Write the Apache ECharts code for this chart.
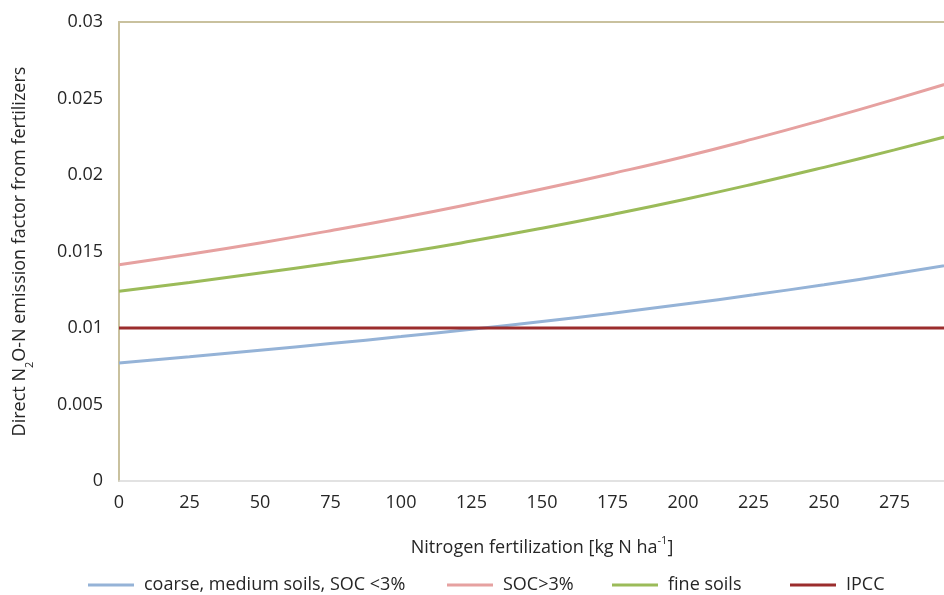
<!DOCTYPE html>
<html>
<head>
<meta charset="utf-8">
<script src="https://cdn.jsdelivr.net/npm/echarts@6/dist/echarts.min.js"></script>
<style>
html,body{margin:0;padding:0;background:#fff;}
#c{width:944px;height:595px;}
</style>
</head>
<body>
<div id="c"></div>
<script>
const nitrogen = [0, 25, 50, 75, 100, 125, 150, 175, 200, 225, 250, 275, 300];
const coarseMedium = [0.00772, 0.00812, 0.00854, 0.00898, 0.00944, 0.00992, 0.01043, 0.01097, 0.01155, 0.01217, 0.01283, 0.01354, 0.01430];
const socAbove3 = [0.01414, 0.01482, 0.01556, 0.01636, 0.01721, 0.01812, 0.01908, 0.02010, 0.02118, 0.02236, 0.02362, 0.02494, 0.02632];
const fineSoils = [0.01240, 0.01298, 0.01359, 0.01423, 0.01491, 0.01568, 0.01652, 0.01742, 0.01838, 0.01941, 0.02050, 0.02164, 0.02283];
const ipcc = [0.01, 0.01, 0.01, 0.01, 0.01, 0.01, 0.01, 0.01, 0.01, 0.01, 0.01, 0.01, 0.01];
const seriesNames = ['coarse, medium soils, SOC <3%', 'SOC>3%', 'fine soils', 'IPCC'];
const seriesValues = [coarseMedium, socAbove3, fineSoils, ipcc];
const seriesColors = ['#95B3D7', '#E6A1A0', '#9BBB59', '#9B2D2D'];
const legendLefts = [88, 447, 612, 790];

const FONT = 'Open Sans';
const FS = 18;
const TXT = '#262626';
const chart = echarts.init(document.getElementById('c'), null, {renderer: 'canvas'});

const series = seriesValues.map((vals, i) => ({
  name: seriesNames[i],
  type: 'line',
  xAxisIndex: 0,
  yAxisIndex: 0,
  data: nitrogen.map((n, j) => [n, vals[j]]),
  showSymbol: false,
  symbol: 'none',
  smooth: 0.5,
  lineStyle: {color: seriesColors[i], width: 3},
  itemStyle: {color: seriesColors[i]},
  clip: true
}));

const legends = seriesNames.map((nm, i) => ({
  data: [nm],
  left: legendLefts[i],
  top: 576,
  padding: 0,
  icon: 'rect',
  itemWidth: 46,
  itemHeight: 3,
  textStyle: {fontFamily: FONT, fontSize: FS, color: TXT, padding: [0, 0, 0, 5]},
  selectedMode: false
}));

chart.setOption({
  animation: false,
  backgroundColor: '#fff',
  grid: {left: 119, right: -21, top: 22, bottom: 114, containLabel: false, outerBoundsMode: 'none'},
  legend: legends,
  xAxis: [{
    type: 'value',
    min: 0, max: 300, interval: 25,
    position: 'bottom',
    axisLine: {show: true, lineStyle: {color: '#D9D9D9', width: 1.5}},
    axisTick: {show: false},
    splitLine: {show: false},
    axisLabel: {fontFamily: FONT, fontSize: FS, color: TXT, margin: 13},
    name: '{a|Nitrogen fertilization [kg N ha}{sup|-1}{a|]}',
    nameLocation: 'middle',
    nameGap: 52,
    nameTextStyle: {
      fontFamily: FONT, fontSize: FS, color: TXT,
      rich: {
        a: {fontFamily: FONT, fontSize: FS, color: TXT, lineHeight: 24, verticalAlign: 'bottom'},
        sup: {fontFamily: FONT, fontSize: 11, color: TXT, lineHeight: 24, verticalAlign: 'top', padding: [2, 0, 0, 0]}
      }
    }
  }, {
    type: 'value',
    min: 0, max: 300, interval: 25,
    position: 'top',
    axisLine: {show: true, lineStyle: {color: '#C9C19E', width: 2}},
    axisTick: {show: false},
    axisLabel: {show: false},
    splitLine: {show: false}
  }],
  yAxis: {
    type: 'value',
    min: 0, max: 0.03, interval: 0.005,
    axisLine: {show: true, lineStyle: {color: '#C9C19E', width: 2}},
    axisTick: {show: false},
    splitLine: {show: false},
    axisLabel: {fontFamily: FONT, fontSize: FS, color: TXT, margin: 16},
    name: '{a|Direct N}{sub|2}{a|O-N emission factor from fertilizers}',
    nameLocation: 'middle',
    nameGap: 84,
    nameRotate: 90,
    nameTextStyle: {
      fontFamily: FONT, fontSize: FS, color: TXT,
      rich: {
        a: {fontFamily: FONT, fontSize: FS, color: TXT, lineHeight: 24, verticalAlign: 'top'},
        sub: {fontFamily: FONT, fontSize: 11, color: TXT, lineHeight: 24, verticalAlign: 'bottom'}
      }
    }
  },
  series: series
});
</script>
</body>
</html>
